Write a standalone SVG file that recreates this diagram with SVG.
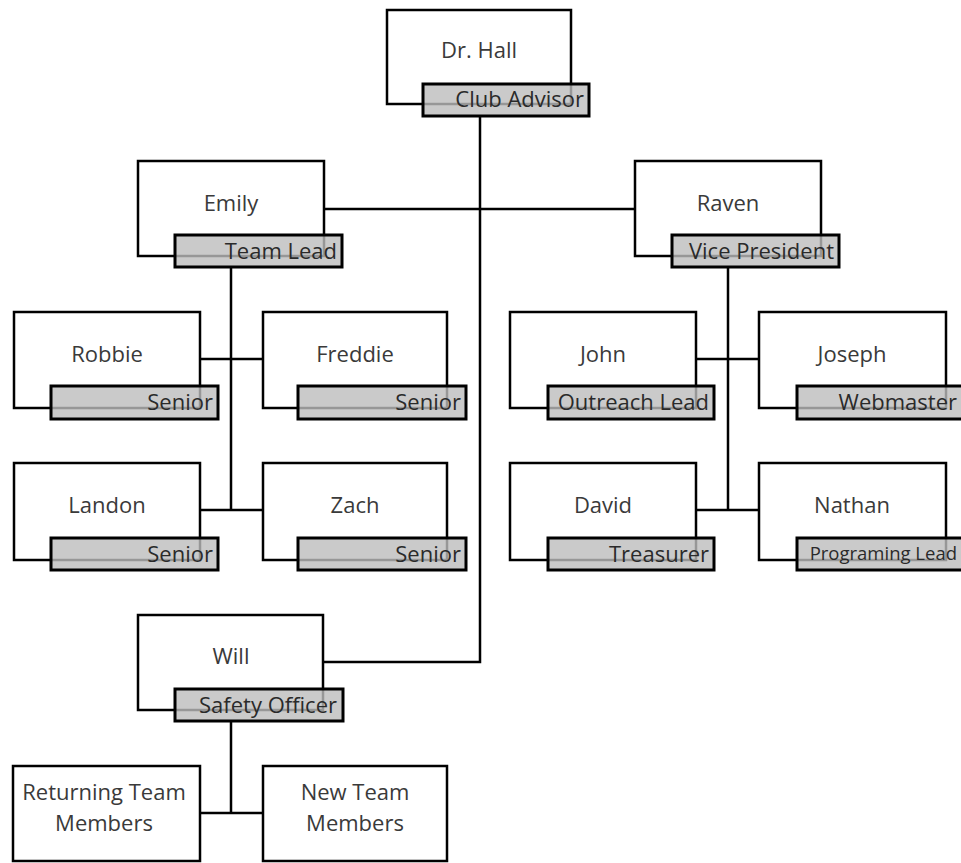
<svg xmlns="http://www.w3.org/2000/svg" width="961" height="863" viewBox="0 0 961 863">
<style>
.box{fill:#fff;stroke:#000;stroke-width:2.5}
.lab{fill:#bdbdbd;fill-opacity:0.8;stroke:#000;stroke-width:3}
.name{font-family:"Open Sans","Noto Sans",sans-serif;font-size:22px;fill:#3a3a3a;text-anchor:middle}
.role{font-family:"Open Sans","Noto Sans",sans-serif;font-size:22px;fill:#2a2a2a;text-anchor:end}
.conn{stroke:#000;stroke-width:2.5;fill:none}
</style>
<rect width="961" height="863" fill="#fff"/>
<g id="connectors">
<path class="conn" d="M480 116V662H323"/>
<path class="conn" d="M324 209H635"/>
<path class="conn" d="M231 267V510M200 359H263M200 510H263"/>
<path class="conn" d="M728 267V510M696 359H759M696 510H759"/>
<path class="conn" d="M231 721V813M200 813H263"/>
</g>
<g id="drhall"><rect class="box" x="387" y="10" width="184" height="94"/><text class="name" x="479" y="58">Dr. Hall</text><rect class="lab" x="423" y="84" width="166" height="32"/><text class="role" x="584" y="107">Club Advisor</text></g>
<g id="emily"><rect class="box" x="138" y="161" width="186" height="95"/><text class="name" x="231" y="211">Emily</text><rect class="lab" x="175" y="235" width="167" height="32"/><text class="role" x="337" y="259">Team Lead</text></g>
<g id="raven"><rect class="box" x="635" y="161" width="186" height="95"/><text class="name" x="728" y="211">Raven</text><rect class="lab" x="672" y="235" width="167" height="32"/><text class="role" x="834" y="259">Vice President</text></g>
<g id="robbie"><rect class="box" x="14" y="312" width="186" height="96"/><text class="name" x="107" y="362">Robbie</text><rect class="lab" x="51" y="386" width="167" height="33"/><text class="role" x="213" y="410">Senior</text></g>
<g id="freddie"><rect class="box" x="263" y="312" width="184" height="96"/><text class="name" x="355" y="362">Freddie</text><rect class="lab" x="298" y="386" width="168" height="33"/><text class="role" x="461" y="410">Senior</text></g>
<g id="landon"><rect class="box" x="14" y="463" width="186" height="97"/><text class="name" x="107" y="513">Landon</text><rect class="lab" x="51" y="538" width="167" height="32"/><text class="role" x="213" y="562">Senior</text></g>
<g id="zach"><rect class="box" x="263" y="463" width="184" height="97"/><text class="name" x="355" y="513">Zach</text><rect class="lab" x="298" y="538" width="168" height="32"/><text class="role" x="461" y="562">Senior</text></g>
<g id="john"><rect class="box" x="510" y="312" width="186" height="96"/><text class="name" x="603" y="362">John</text><rect class="lab" x="548" y="386" width="166" height="33"/><text class="role" x="709" y="410">Outreach Lead</text></g>
<g id="joseph"><rect class="box" x="759" y="312" width="187" height="96"/><text class="name" x="852" y="362">Joseph</text><rect class="lab" x="797" y="386" width="166" height="33"/><text class="role" x="957" y="410">Webmaster</text></g>
<g id="david"><rect class="box" x="510" y="463" width="186" height="97"/><text class="name" x="603" y="513">David</text><rect class="lab" x="548" y="538" width="166" height="32"/><text class="role" x="709" y="562">Treasurer</text></g>
<g id="nathan"><rect class="box" x="759" y="463" width="187" height="97"/><text class="name" x="852" y="513">Nathan</text><rect class="lab" x="797" y="538" width="166" height="32"/><text class="role" x="957" y="560" style="font-size:18.5px">Programing Lead</text></g>
<g id="will"><rect class="box" x="138" y="615" width="185" height="95"/><text class="name" x="231" y="664">Will</text><rect class="lab" x="175" y="689" width="168" height="32"/><text class="role" x="337" y="713">Safety Officer</text></g>
<g id="returning"><rect class="box" x="13" y="766" width="187" height="95"/><text class="name" x="104" y="800">Returning Team</text><text class="name" x="104" y="831">Members</text></g>
<g id="newteam"><rect class="box" x="263" y="766" width="184" height="95"/><text class="name" x="355" y="800">New Team</text><text class="name" x="355" y="831">Members</text></g>
</svg>
